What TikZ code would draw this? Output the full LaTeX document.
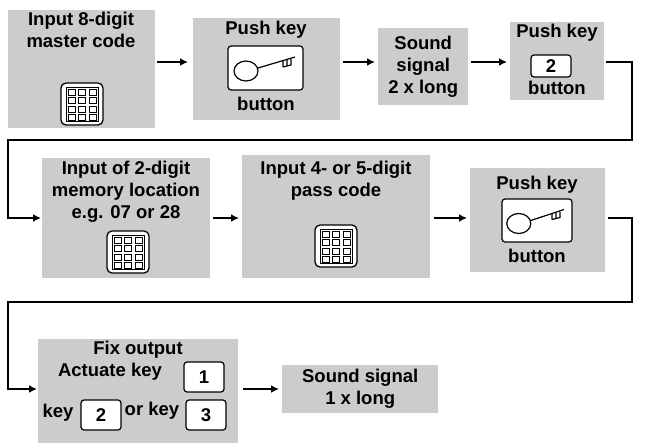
\documentclass[tikz,border=0pt]{standalone}
\usepackage{fontspec}
\setmainfont{Liberation Sans}
\usetikzlibrary{arrows.meta}
\begin{document}
\begin{tikzpicture}[x=1pt,y=-1pt,
 box/.style={fill=black!20,draw=none,align=center,font=\bfseries\fontsize{18.5}{22}\selectfont,inner sep=0pt},
 lbl/.style={font=\bfseries\fontsize{18.5}{22}\selectfont,align=center,inner sep=0pt},
 wk/.style={draw,line width=1.2pt,rounded corners=3pt,fill=white},
 arr/.style={line width=2.2pt,-{Latex[length=8pt,width=8pt]}},
 ln/.style={line width=2.2pt}]
\useasboundingbox (0,0) rectangle (648,445);
\newcommand{\keypad}[2]{%
 \draw[line width=1.3pt,rounded corners=5pt,fill=white] (#1-21,#2-21) rectangle (#1+21,#2+21);
 \draw[line width=1pt] (#1-16,#2-17) rectangle (#1+16,#2+17);
 \foreach \i in {-1,0,1}{\foreach \j in {0,1,2,3}{
   \draw[line width=1pt] (#1+\i*10.5-3.5,#2-15+\j*8.5) rectangle (#1+\i*10.5+3.5,#2-9+\j*8.5);}}}
\newcommand{\keyicon}[4]{%
 \draw[wk] (#1,#2) rectangle (#3,#4);
 \draw[line width=1.2pt] ({#1+0.24*(#3-#1)},{0.5*(#2+#4)+3}) ellipse [x radius=12,y radius=10];
 \draw[line width=1.2pt] ({#1+0.24*(#3-#1)+12},{0.5*(#2+#4)}) -- ({#3-8},{0.5*(#2+#4)-11});
 \draw[line width=1.2pt] ({#3-20},{0.5*(#2+#4)-7}) -- ++(0,6) ({#3-16},{0.5*(#2+#4)-8}) -- ++(0,6) ({#3-12},{0.5*(#2+#4)-9}) -- ++(0,6) -- ++(-8,2);}
% row 1
\node[box,minimum width=147,minimum height=118,anchor=north west] (b1) at (8,10) {};
\node[lbl,anchor=north] (t1) at (81,12) {Input 8-digit\\master code};
\keypad{82}{104}
\node[box,minimum width=147,minimum height=102,anchor=north west] (b2) at (193,18) {};
\node[lbl,anchor=north] (t2) at (266,21) {Push key};
\keyicon{228}{46}{303}{90}
\node[lbl] (t2b) at (266,104) {button};
\node[box,minimum width=90,minimum height=77,anchor=north west] (b3) at (378,28) {Sound\\signal\\2 x long};
\node[box,minimum width=94,minimum height=78,anchor=north west] (b4) at (510,22) {};
\node[lbl,anchor=north] (t4) at (557,24) {Push key};
\node[wk,minimum width=40,minimum height=22,lbl] (k4) at (551,66) {2};
\node[lbl] (t4b) at (557,88) {button};
% row 2
\node[box,minimum width=168,minimum height=120,anchor=north west] (b5) at (42,158) {};
\node[lbl,anchor=north] (t5) at (126,161) {Input of 2-digit\\memory location\\e.g. 07 or 28};
\keypad{128}{252}
\node[box,minimum width=188,minimum height=123,anchor=north west] (b6) at (242,155) {};
\node[lbl,anchor=north] (t6) at (336,161) {Input 4- or 5-digit\\pass code};
\keypad{336}{246}
\node[box,minimum width=135,minimum height=104,anchor=north west] (b7) at (470,168) {};
\node[lbl,anchor=north] (t7) at (537,176) {Push key};
\keyicon{502}{199}{572}{242}
\node[lbl] (t7b) at (537,256) {button};
% row 3
\node[box,minimum width=200,minimum height=104,anchor=north west] (b8) at (38,339) {};
\node[lbl] (t8) at (138,350) {Fix output};
\node[lbl] (t8b) at (110,372) {Actuate key};
\node[wk,minimum width=40,minimum height=30,lbl] (k1) at (204,377) {1};
\node[lbl] (t8c) at (58,413) {key};
\node[wk,minimum width=40,minimum height=30,lbl] (k2) at (101,415) {2};
\node[lbl] (t8d) at (152,411) {or key};
\node[wk,minimum width=40,minimum height=30,lbl] (k3) at (206,415) {3};
\node[box,minimum width=156,minimum height=48,anchor=north west] (b9) at (282,365) {Sound signal\\1 x long};
% connectors
\coordinate (c1) at (632,140); \coordinate (c2) at (8,140);
\coordinate (c3) at (632,302); \coordinate (c4) at (8,302);
\draw[arr] (157,62) -- (188,62);
\draw[arr] (343,62) -- (375,62);
\draw[arr] (471,62) -- (507,62);
\draw[ln] (606,62) -- (632,62) -- (c1) -- (c2) -- (8,218);
\draw[arr] (7,218) -- (41,218);
\draw[arr] (213,218) -- (239,218);
\draw[arr] (434,218) -- (467,218);
\draw[ln] (608,218) -- (632,218) -- (c3) -- (c4) -- (8,389);
\draw[arr] (7,389) -- (37,389);
\draw[arr] (243,389) -- (279,389);
\end{tikzpicture}
\end{document}
